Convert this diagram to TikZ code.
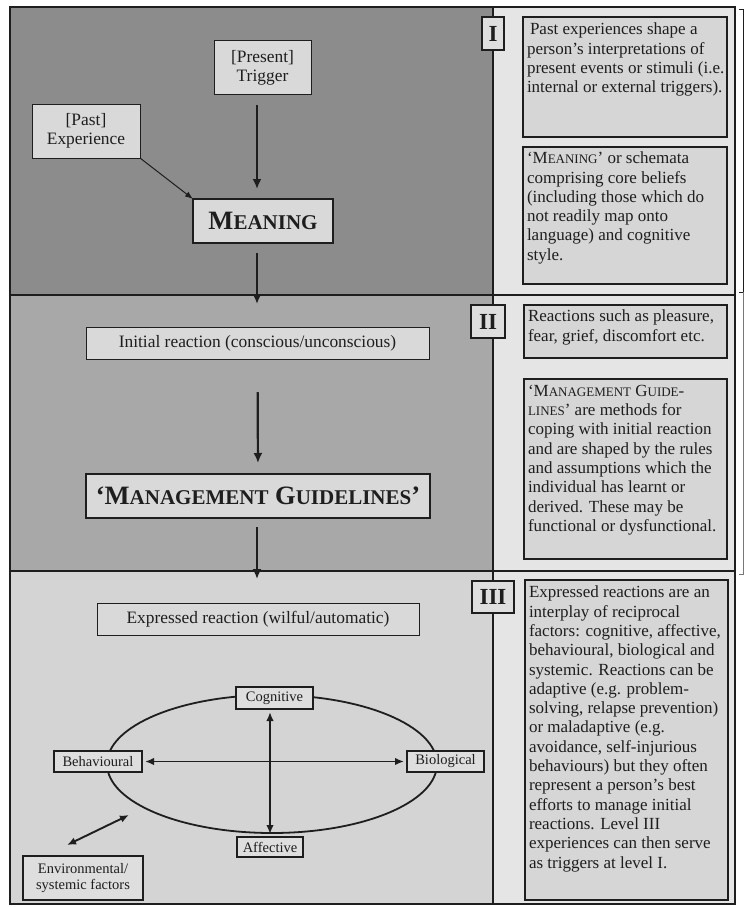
\documentclass[tikz,border=0pt]{standalone}
\usepackage{fontspec}
\setmainfont{Liberation Serif}
\usepackage{tikz}
\usetikzlibrary{arrows.meta}
\usetikzlibrary{calc}

\definecolor{ink}{HTML}{1E1E1E}
\definecolor{levelI}{gray}{0.55}
\definecolor{levelII}{gray}{0.66}
\definecolor{levelIII}{gray}{0.83}
\definecolor{sidecol}{gray}{0.90}
\definecolor{descgray}{gray}{0.84}
\definecolor{boxgray}{gray}{0.85}
\definecolor{taggray}{gray}{0.87}

\newcommand{\bodytext}{\fontsize{17.4}{19.3}\selectfont}
\newcommand{\tagtext}{\fontsize{14.5}{16}\selectfont}
\newcommand{\capfont}[2]{{\fontsize{#1}{0pt}\selectfont #2}}

\begin{document}
\begin{tikzpicture}[x=1pt, y=-1pt, every node/.style={text=ink, inner sep=0pt, outer sep=0pt},
            box/.style={draw=ink, fill=boxgray, line width=1pt, font=\bodytext, align=center},
            bigbox/.style={box, line width=2.2pt},
            tagbox/.style={draw=ink, fill=taggray, line width=1.8pt, font=\tagtext, align=center},
            numbox/.style={draw=ink, fill=taggray, line width=2.2pt, font={\fontsize{23}{23}\selectfont\bfseries}},
            descbox/.style={draw=ink, fill=descgray, line width=1.1pt},
            desc/.style={font=\fontsize{17}{19.3}\selectfont, align=left, anchor=north west},
            arr/.style={draw=ink, line width=2.2pt, -{Latex[length=10pt,width=9pt]}},
            thinarr/.style={draw=ink, line width=1pt, -{Latex[length=8pt,width=6pt]}},
            twoway/.style={draw=ink, line width=1.9pt, {Latex[length=9pt,width=7.5pt]}-{Latex[length=9pt,width=7.5pt]}}]
            \useasboundingbox (0,0) rectangle (747,907);
            % bands
            \fill[levelI] (10,7) rectangle (493,295);
            \fill[levelII] (10,295) rectangle (493,571);
            \fill[levelIII] (10,571) rectangle (493,904);
            \fill[sidecol] (493,7) rectangle (735,904);
            \draw[ink, line width=1.2pt] (10,7) rectangle (735,904);
            \draw[ink, line width=1.2pt] (493,7) -- (493,904);
            \draw[ink, line width=1.2pt] (10,295) -- (735,295);
            \draw[ink, line width=1.2pt] (10,571) -- (735,571);
            \draw[ink, line width=1pt] (739,10) -- (743,10) -- (743,292) -- (739,292);
            \draw[ink!60, line width=0.7pt] (743,292) -- (743,574) -- (739,574);
            % level I
            \node[box, minimum width=97, minimum height=53] (T) at (262.5,67.5) {[Present]\\Trigger};
            \node[box, minimum width=108, minimum height=54] (P) at (86,131) {[Past]\\Experience};
            \node[bigbox, minimum width=140, minimum height=44] (M) at (263,221)
                {\bfseries\fontsize{26.5}{28}\selectfont M\capfont{21}{EANING}};
            % level II
            \node[box, minimum width=343, minimum height=32] (IR) at (257.5,343) {Initial reaction (conscious/unconscious)};
            \node[bigbox, minimum width=344, minimum height=44] (MG) at (258,496)
                {\bfseries\fontsize{26.5}{28}\selectfont ‘M\capfont{21}{ANAGEMENT} G\capfont{21}{UIDELINES}’};
            % level III
            \node[box, minimum width=322, minimum height=32] (ER) at (258,619) {Expressed reaction (wilful/automatic)};
            \draw[ink, line width=1.8pt] (272,764) ellipse [x radius=165, y radius=69];
            \node[tagbox, minimum width=77, minimum height=22] (Cg) at (274.5,698) {Cognitive};
            \node[tagbox, minimum width=88, minimum height=21] (Bh) at (98,761.5) {Behavioural};
            \node[tagbox, minimum width=77, minimum height=21] (Bi) at (445.5,761.5) {Biological};
            \node[tagbox, minimum width=66, minimum height=20] (Af) at (270,847) {Affective};
            \node[tagbox, minimum width=120, minimum height=44] (En) at (83,878) {Environmental/\\systemic factors};
            \coordinate (IRin) at (257,304);
            \coordinate (ERin) at (257,579);
            \coordinate (envlo) at (67,845);
            \coordinate (envhi) at (129,815);
            % numerals
            \node[numbox, minimum width=22, minimum height=33] (nI) at (493,33.5) {I};
            \node[numbox, minimum width=34, minimum height=33] (nII) at (488,321.5) {II};
            \node[numbox, minimum width=42, minimum height=32] (nIII) at (493,597) {III};
            % side notes
            \draw[descbox] (523,17) rectangle (727,137);
            \node[desc] (dPast) at (527,23) {\hspace*{3pt}Past experiences shape a\\person’s interpretations of\\present events or stimuli (i.e.\\internal or external triggers).};
            \draw[descbox] (523,147) rectangle (727,284);
            \node[desc] (dMean) at (527,152) {‘M\capfont{13}{EANING}’ or schemata\\comprising core beliefs\\(including those which do\\not readily map onto\\language) and cognitive\\style.};
            \draw[descbox] (524,305) rectangle (727,358);
            \node[desc] (dReact) at (528,310) {Reactions such as pleasure,\\fear, grief, discomfort etc.};
            \draw[descbox] (524,379) rectangle (727,559);
            \node[desc] (dGuide) at (528,385) {‘M\capfont{13}{ANAGEMENT} G\capfont{13}{UIDE}-\\\capfont{13}{LINES}’ are methods for\\coping with initial reaction\\and are shaped by the rules\\and assumptions which the\\individual has learnt or\\derived. These may be\\functional or dysfunctional.};
            \draw[descbox] (525,580) rectangle (728,900);
            \node[desc] (dExpr) at (529,586) {Expressed reactions are an\\interplay of reciprocal\\factors: cognitive, affective,\\behavioural, biological and\\systemic. Reactions can be\\adaptive (e.g. problem-\\solving, relapse prevention)\\or maladaptive (e.g.\\avoidance, self-injurious\\behaviours) but they often\\represent a person’s best\\efforts to manage initial\\reactions. Level III\\experiences can then serve\\as triggers at level I.};
            % arrows
            \draw[arr, shorten <=11pt, shorten >=10pt] ([xshift=-5.5pt]T.south) -- ([xshift=-6pt]M.north);
            \draw[thinarr] (P.south east) -- (M.north west);
            \draw[arr, shorten <=10pt] ([xshift=-6pt]M.south) -- (IRin);
            \draw[arr, shorten <=33pt, shorten >=11pt] (IR.south) -- (MG.north);
            \draw[arr, shorten <=9pt] ([xshift=-1pt]MG.south) -- (ERin);
            \draw[twoway, shorten <=3pt, shorten >=3pt] ([xshift=-4.5pt]Cg.south) -- (Af.north);
            \draw[twoway, shorten <=3pt, shorten >=3pt] (Bh.east) -- (Bi.west);
            \draw[twoway] (envlo) -- (envhi);
        \end{tikzpicture}
\end{document}
